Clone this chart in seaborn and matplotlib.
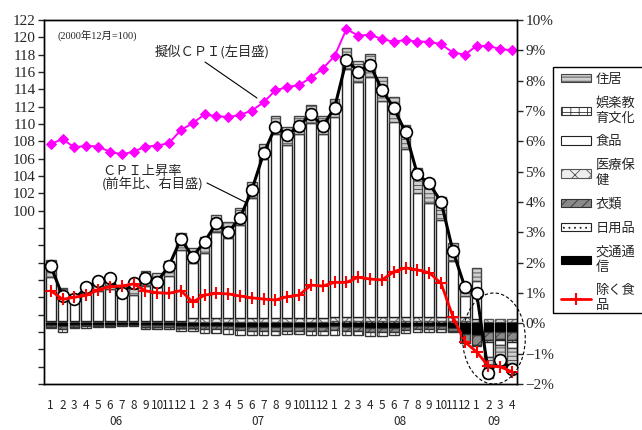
import numpy as np
import matplotlib
matplotlib.use("Agg")
import matplotlib.pyplot as plt
from matplotlib.patches import Patch, Ellipse, Rectangle
from matplotlib.lines import Line2D
from matplotlib.font_manager import FontProperties
import seaborn as sns

# ---- data ----
months = [str(m) for m in range(1, 13)] * 3 + ["1", "2", "3", "4"]
years = ["06", "07", "08", "09"]
year_pos = [5.5, 17.5, 29.5, 37.5]

# pseudo CPI index, left axis (2000/12 = 100)
cpi_index = [107.7, 108.25, 107.3, 107.5, 107.4, 106.8, 106.5, 106.8, 107.4, 107.5, 107.8, 109.3,
             110.1, 111.1, 110.9, 110.8, 111.05, 111.55, 112.5, 113.9, 114.25, 114.5, 115.35, 116.4,
             117.85, 120.95, 120.2, 120.3, 119.8, 119.5, 119.7, 119.5, 119.5, 119.2, 118.25, 118.0,
             119.0, 119.0, 118.65, 118.5]

# CPI y/y %, right axis
cpi_rate = [1.89, 0.90, 0.79, 1.19, 1.39, 1.48, 0.99, 1.32, 1.48, 1.37, 1.90, 2.78,
            2.20, 2.69, 3.30, 3.00, 3.47, 4.40, 5.60, 6.48, 6.21, 6.50, 6.90, 6.50,
            7.11, 8.68, 8.30, 8.52, 7.70, 7.10, 6.30, 4.91, 4.61, 4.01, 2.39, 1.21,
            1.01, -1.63, -1.21, -1.52]

# excluding food y/y %
core_rate = [1.08, 0.79, 0.86, 0.92, 1.10, 1.21, 1.23, 1.30, 1.07, 1.01, 0.99, 1.08,
             0.70, 0.93, 0.99, 0.97, 0.90, 0.84, 0.80, 0.77, 0.88, 0.93, 1.26, 1.23,
             1.35, 1.35, 1.52, 1.46, 1.43, 1.70, 1.83, 1.76, 1.67, 1.32, 0.22, -0.61,
             -0.94, -1.41, -1.43, -1.60]

# contributions (percentage points)
housing = [0.55, 0.35, 0.30, 0.35, 0.40, 0.45, 0.40, 0.45, 0.50, 0.45, 0.50, 0.55,
           0.50, 0.55, 0.55, 0.55, 0.55, 0.55, 0.50, 0.60, 0.60, 0.60, 0.60, 0.60,
           0.60, 0.70, 0.70, 0.75, 0.80, 0.80, 0.80, 0.80, 0.80, 0.75, 0.60, 0.35,
           0.40, -0.70, -0.55, -0.65]
recreation = [-0.05, -0.10, -0.05, -0.05, -0.03, -0.03, -0.03, -0.03, -0.08, -0.08, -0.08, -0.10,
              -0.10, -0.12, -0.12, -0.15, -0.15, -0.15, -0.15, -0.15, -0.12, -0.12, -0.15, -0.15,
              -0.15, -0.15, -0.15, -0.15, -0.15, -0.12, -0.10, -0.10, -0.10, -0.08, -0.05, -0.05,
              -0.05, -0.05, -0.05, -0.05]
food = [1.46, 0.74, 0.58, 0.89, 1.00, 1.06, 0.78, 0.86, 1.14, 1.12, 1.47, 2.34,
        1.83, 2.15, 2.86, 2.64, 3.09, 3.96, 5.25, 6.07, 5.72, 6.07, 6.44, 6.07,
        6.60, 8.17, 7.75, 7.93, 7.13, 6.45, 5.54, 4.11, 3.76, 3.20, 1.86, 0.70,
        1.28, -0.50, -0.15, -0.20]
medical = [0.05, 0.05, 0.05, 0.05, 0.05, 0.05, 0.05, 0.05, 0.05, 0.05, 0.05, 0.05,
           0.10, 0.10, 0.10, 0.10, 0.10, 0.10, 0.10, 0.10, 0.10, 0.10, 0.10, 0.10,
           0.12, 0.12, 0.12, 0.12, 0.12, 0.12, 0.12, 0.12, 0.12, 0.12, 0.12, 0.12,
           0.08, 0.08, 0.08, 0.08]
clothing = [-0.05, -0.10, -0.06, -0.04, -0.04, -0.04, -0.03, -0.03, -0.06, -0.06, -0.06, -0.08,
            -0.08, -0.10, -0.10, -0.10, -0.10, -0.12, -0.12, -0.12, -0.12, -0.12, -0.12, -0.12,
            -0.12, -0.12, -0.12, -0.12, -0.12, -0.12, -0.10, -0.10, -0.10, -0.10, -0.10, -0.25,
            -0.30, -0.25, -0.20, -0.25]
daily = [0.03, 0.03, 0.03, 0.03, 0.03, 0.03, 0.03, 0.03, 0.03, 0.03, 0.03, 0.03,
         0.06, 0.06, 0.06, 0.06, 0.06, 0.06, 0.06, 0.06, 0.06, 0.06, 0.06, 0.06,
         0.08, 0.08, 0.08, 0.08, 0.08, 0.08, 0.08, 0.08, 0.08, 0.08, 0.08, 0.08,
         0.05, 0.05, 0.05, 0.05]
transport = [-0.06, -0.08, -0.06, -0.05, -0.05, -0.04, -0.04, -0.04, -0.05, -0.05, -0.06, -0.08,
             -0.08, -0.10, -0.10, -0.10, -0.12, -0.12, -0.12, -0.12, -0.12, -0.12, -0.12, -0.12,
             -0.10, -0.12, -0.12, -0.15, -0.15, -0.15, -0.12, -0.10, -0.10, -0.10, -0.15, -0.35,
             -0.40, -0.30, -0.30, -0.30]

# ---- styling ----
sns.set_style("white")
plt.rcParams['font.family'] = ['Liberation Serif', 'Noto Sans CJK JP']
plt.rcParams['hatch.linewidth'] = 0.6
jp = ['Noto Sans CJK JP', 'DejaVu Sans']

W, H = 642, 430
fig = plt.figure(figsize=(W / 100, H / 100), dpi=100)
ax = fig.add_axes([44 / W, 46 / H, 473 / W, 364 / H])
ax2 = ax.twinx()

x = np.arange(len(months))

styles = {
    "住居": dict(facecolor="#cfcfcf", edgecolor="#444444", hatch="----"),
    "娯楽教育文化": dict(facecolor="white", edgecolor="#333333", hatch="++"),
    "食品": dict(facecolor="white", edgecolor="#222222"),
    "医療保健": dict(facecolor="#eeeeee", edgecolor="#555555", hatch="xx"),
    "衣類": dict(facecolor="#8a8a8a", edgecolor="#333333", hatch="///"),
    "日用品": dict(facecolor="white", edgecolor="#222222", hatch="..."),
    "交通通信": dict(facecolor="black", edgecolor="black"),
}

# stacking order, nearest to zero first
layers = [("日用品", daily), ("医療保健", medical), ("交通通信", transport),
          ("衣類", clothing), ("娯楽教育文化", recreation), ("食品", food), ("住居", housing)]

pos_base = np.zeros(len(x))
neg_base = np.zeros(len(x))
for name, vals in layers:
    v = np.array(vals)
    base = np.where(v >= 0, pos_base, neg_base)
    ax2.bar(x, v, width=0.82, bottom=base, linewidth=1.0, **styles[name])
    pos_base += np.clip(v, 0, None)
    neg_base += np.clip(v, None, 0)

# lines
sns.lineplot(x=x, y=cpi_index, ax=ax, color="#ff00ff", linewidth=1.4, marker="D",
             markersize=5, markeredgecolor="#ff00ff")
sns.lineplot(x=x, y=cpi_rate, ax=ax2, color="black", linewidth=2.2, marker="o",
             markersize=8.5, markerfacecolor="white", markeredgecolor="black",
             markeredgewidth=1.2, zorder=5)
sns.lineplot(x=x, y=core_rate, ax=ax2, color="red", linewidth=2, marker="+",
             markersize=9, markeredgewidth=1.5, markeredgecolor="red", zorder=6)

# axes
ax.set_xlim(-0.57, 39.42)
ax.set_ylim(80, 122)
ax.set_yticks(np.arange(80, 123, 2))
ax.set_yticklabels([str(v) if v >= 100 else "" for v in range(80, 123, 2)])
ax2.set_ylim(-2, 10)
ax2.set_yticks(np.arange(-2, 11, 1))
ax2.set_yticklabels([(f"{v}%" if v >= 0 else f"\u2212{-v}%") for v in range(-2, 11)])
ax.set_xticks(x)
ax.set_xticklabels(months, family=jp, fontsize=8.5)
ax.tick_params(axis="x", length=0, pad=11)
ax.tick_params(axis="y", direction="out", length=4, width=1, labelsize=11, pad=2)
ax2.tick_params(axis="y", direction="out", length=4, width=1, labelsize=11, pad=2)
ax.set_xlabel("")
ax.set_ylabel("")
ax2.set_ylabel("")
for a in (ax, ax2):
    for s in a.spines.values():
        s.set_color("black")
        s.set_linewidth(1)

for yr, p in zip(years, year_pos):
    ax.text(p, -0.104, yr, transform=ax.get_xaxis_transform(), ha="center", va="center",
            family=jp, fontsize=8.5)

# dashed circle around 2009
ax2.add_patch(Ellipse((37.47, -0.5), 5.3, 3.0, fill=False, linestyle=(0, (3, 2)),
                      linewidth=0.8, edgecolor="black", clip_on=False, zorder=7))


def fx(px):
    return px / W


def fy(py):
    return 1 - py / H


fig.text(fx(57), fy(35), "(2000年12月=100)", fontsize=7.5, va="center", ha="left",
         family=['Liberation Serif', 'Noto Sans CJK JP'])
fig.text(fx(155), fy(52), "擬似ＣＰＩ(左目盛)", fontsize=9.5, va="center", ha="left", family=jp)
fig.text(fx(102), fy(171), "ＣＰＩ上昇率", fontsize=9.5, va="center", ha="left", family=jp)
fig.text(fx(102), fy(184), "(前年比、右目盛)", fontsize=9.5, va="center", ha="left", family=jp)
fig.add_artist(Line2D([fx(205), fx(257)], [fy(62), fy(98)], transform=fig.transFigure,
                      color="black", linewidth=0.8))
fig.add_artist(Line2D([fx(207), fx(245)], [fy(183), fy(202)], transform=fig.transFigure,
                      color="black", linewidth=0.8))

# legend: box runs off the right edge of the figure, as in the original
fig.add_artist(Rectangle((fx(553), fy(313)), fx(660) - fx(553), fy(67) - fy(313),
                         transform=fig.transFigure, fill=False, edgecolor="black",
                         linewidth=1))
leg_names = ["住居", "娯楽教育文化", "食品", "医療保健", "衣類", "日用品", "交通通信"]
leg_labels = ["住居", "娯楽教\n育文化", "食品", "医療保\n健", "衣類", "日用品", "交通通\n信", "除く食\n品"]
handles = [Patch(linewidth=0.8, **styles[n]) for n in leg_names]
handles.append(Line2D([], [], color="red", linewidth=2, marker="+", markersize=9,
                      markeredgewidth=1.5))
fig.legend(handles, leg_labels, loc="upper left", bbox_to_anchor=(fx(558), fy(70)),
           frameon=False, prop=FontProperties(family="Noto Sans CJK JP", size=9.5),
           handlelength=2.3, handleheight=0.6, labelspacing=0.82, borderpad=0.2,
           handletextpad=0.35, borderaxespad=0)

fig.savefig("out.png", dpi=100)
